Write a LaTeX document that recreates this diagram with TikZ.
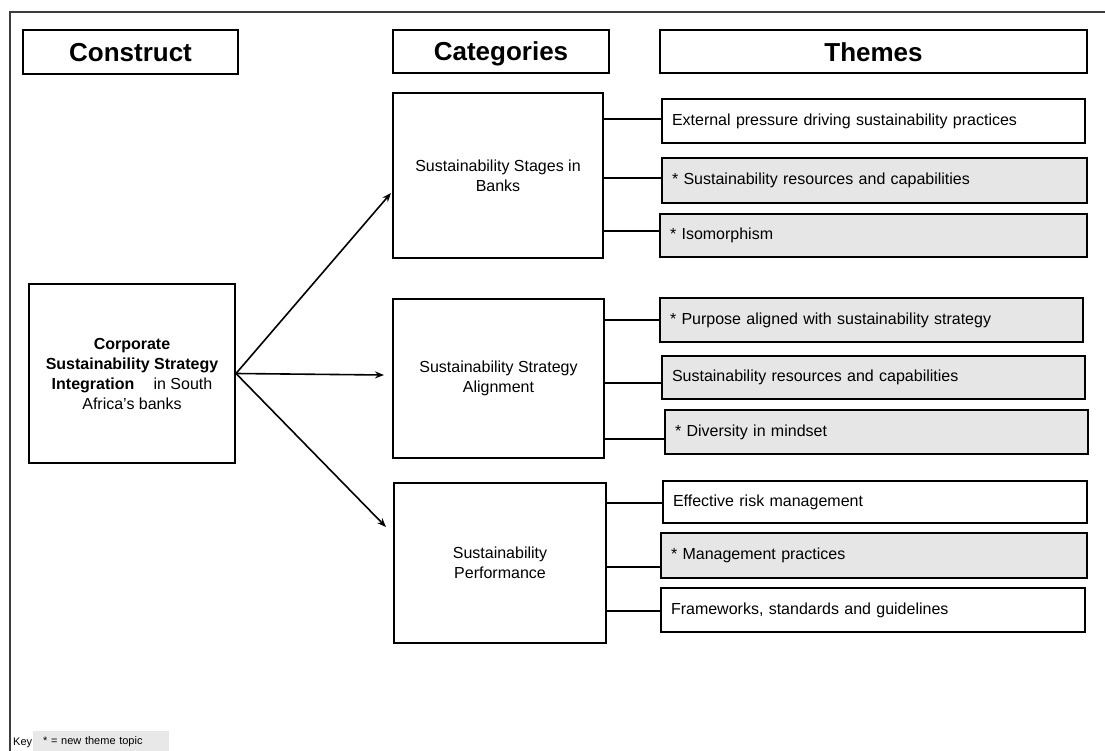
\documentclass[tikz,border=0pt]{standalone}
\usepackage{fontspec}
\setmainfont{Liberation Sans}
\usetikzlibrary{arrows.meta}
\definecolor{themegray}{RGB}{230,230,230}
\definecolor{keygray}{RGB}{232,232,232}
\definecolor{framegray}{RGB}{60,60,60}
\tikzset{
  headbox/.style={draw, line width=2pt, font=\fontsize{26}{28}\selectfont\bfseries,
    inner sep=0pt, anchor=center, text height=19pt, text depth=0pt},
  catbox/.style={draw, line width=2pt, font=\fontsize{16}{20}\selectfont,
    align=center, inner sep=0pt, anchor=center},
  themebox/.style={draw, line width=2pt, font=\fontsize{16}{19}\selectfont,
    align=left, inner xsep=10pt, inner ysep=0pt, anchor=center},
  newtheme/.style={themebox, fill=themegray},
  link/.style={line width=2pt},
  arrowline/.style={line width=1.6pt, -{Stealth[length=9pt,width=7pt]}},
}
\newcommand{\themeat}[6]{% name, left, right, top, bottom, style
  \node[#6, minimum width={(#3-#2)*1pt}, text width={(#3-#2-20)*1pt},
        minimum height={(#5-#4)*1pt}] (#1) at ({(#2+#3)/2},{(#4+#5)/2})}
\begin{document}
\begin{tikzpicture}[x=1pt, y=-1pt]
\useasboundingbox (0,0) rectangle (1105,751);

% outer frame, open towards the right and bottom edges
\draw[framegray, line width=1.5pt] (1105,12) -- (10,12) -- (10,751);

% column headings
\node[headbox, minimum width=215pt, minimum height=44pt] (hcons) at (130.5,52.5) {Construct};
\node[headbox, minimum width=216pt, minimum height=43pt] (hcat) at (501,51.5) {Categories};
\node[headbox, minimum width=427pt, minimum height=43pt] (hthm) at (873.5,52) {Themes};

% construct
\node[catbox, minimum width=206pt, minimum height=179pt] (cons) at (132,373.5)
  {\textbf{Corporate}\\ \textbf{Sustainability Strategy}\\ \textbf{Integration}\hspace{1.2em}in South\\ Africa’s banks};

% categories
\node[catbox, minimum width=210pt, minimum height=165pt] (stages) at (498,175.5)
  {Sustainability Stages in\\ Banks};
\node[catbox, minimum width=211pt, minimum height=159pt] (align) at (498.5,378.5)
  {Sustainability Strategy\\ Alignment};
\node[catbox, minimum width=212pt, minimum height=160pt] (perf) at (500,563)
  {Sustainability\\ Performance};

% themes
\themeat{t1}{662}{1085}{99}{143}{themebox}{External pressure driving sustainability practices};
\themeat{t2}{662}{1087}{158}{203}{newtheme}{* Sustainability resources and capabilities};
\themeat{t3}{660}{1087}{214}{257}{newtheme}{* Isomorphism};
\themeat{t4}{660}{1083}{298}{342}{newtheme}{* Purpose aligned with sustainability strategy};
\themeat{t5}{662}{1085}{356}{399}{newtheme}{Sustainability resources and capabilities};
\themeat{t6}{665}{1088}{410}{454}{newtheme}{* Diversity in mindset};
\themeat{t7}{663}{1087}{481}{523}{themebox}{Effective risk management};
\themeat{t8}{661}{1087}{533}{578}{newtheme}{* Management practices};
\themeat{t9}{661}{1085}{588}{632}{themebox}{Frameworks, standards and guidelines};

% arrows from the construct to the categories
\coordinate (tipA) at (391,193);
\coordinate (tipB) at (384,375);
\coordinate (tipC) at (386,527);
\draw[arrowline] (cons.east) -- (tipA);
\draw[arrowline] (cons.east) -- (tipB);
\draw[arrowline] (cons.east) -- (tipC);

% category-to-theme links
\draw[link] (stages.east |- 0,119) -- (t1.west |- 0,119);
\draw[link] (stages.east |- 0,178) -- (t2.west |- 0,178);
\draw[link] (stages.east |- 0,231) -- (t3.west |- 0,231);
\draw[link] (align.east |- 0,320) -- (t4.west |- 0,320);
\draw[link] (align.east |- 0,383) -- (t5.west |- 0,383);
\draw[link] (align.east |- 0,439) -- (t6.west |- 0,439);
\draw[link] (perf.east |- 0,503) -- (t7.west |- 0,503);
\draw[link] (perf.east |- 0,567) -- (t8.west |- 0,567);
\draw[link] (perf.east |- 0,611) -- (t9.west |- 0,611);

% key
\node[anchor=west, inner sep=0pt, font=\fontsize{11}{12}\selectfont] (keylbl) at (13,743) {Key};
\node[fill=keygray, anchor=north west, minimum width=136pt, minimum height=20pt,
      text width=116pt, inner xsep=10pt, inner ysep=0pt, align=left,
      font=\fontsize{11}{12}\selectfont] (keybox) at (33,731) {* = new theme topic};
\end{tikzpicture}
\end{document}
